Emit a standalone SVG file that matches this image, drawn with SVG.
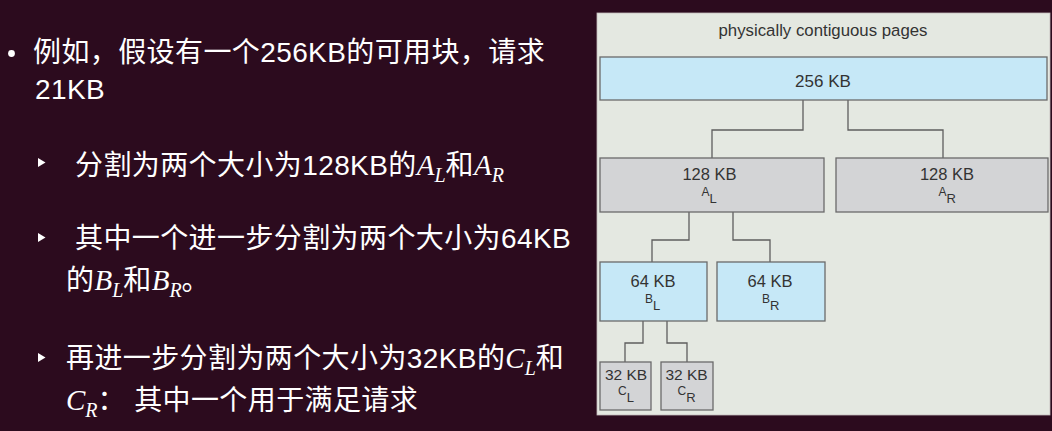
<svg xmlns="http://www.w3.org/2000/svg" width="1052" height="431" viewBox="0 0 1052 431">
<style>
.t{font-family:"Liberation Sans","Noto Sans CJK SC",sans-serif;font-size:28px;fill:#ffffff;letter-spacing:0.4px}
.m{font-family:"Liberation Serif","Noto Sans CJK SC",serif;font-style:italic;font-size:29px;letter-spacing:0}
.ms{font-family:"Liberation Serif","Noto Sans CJK SC",serif;font-style:italic;font-size:20px;letter-spacing:0}
.box{stroke:#6a6a6a;stroke-width:1.3}
.blue{fill:#c6e8f7}
.gray{fill:#d3d4d6}
.lbl{font-family:"Liberation Sans",Arial,sans-serif;fill:#333333;text-anchor:middle}
.sub{font-family:"Liberation Sans",Arial,sans-serif;fill:#333333;font-size:12px}
.conn{fill:none;stroke:#5e5e5e;stroke-width:1.3}
</style>
<rect x="0" y="0" width="1052" height="431" fill="#2c0b1e"/>
<g id="bullets">
<circle cx="11.5" cy="53.5" r="3.4" fill="#ffffff"/>
<polygon points="38,158 45.5,162.5 38,167" fill="#ffffff"/>
<polygon points="38,233 45.5,237.5 38,242" fill="#ffffff"/>
<polygon points="38,353 45.5,357.5 38,362" fill="#ffffff"/>
</g>
<g id="text">
<text class="t" x="33" y="62">例如，假设有一个256KB的可用块，请求</text>
<text class="t" x="35" y="99">21KB</text>
<text class="t" x="75" y="175">分割为两个大小为128KB的<tspan class="m">A</tspan><tspan class="ms" dy="7">L</tspan><tspan dy="-7">和</tspan><tspan class="m">A</tspan><tspan class="ms" dy="7">R</tspan></text>
<text class="t" x="75" y="248">其中一个进一步分割为两个大小为64KB</text>
<text class="t" x="66" y="290">的<tspan class="m">B</tspan><tspan class="ms" dy="7">L</tspan><tspan dy="-7">和</tspan><tspan class="m">B</tspan><tspan class="ms" dy="7">R</tspan><tspan dy="-7">。</tspan></text>
<text class="t" x="66" y="368">再进一步分割为两个大小为32KB的<tspan class="m">C</tspan><tspan class="ms" dy="7">L</tspan><tspan dy="-7">和</tspan></text>
<text class="t" x="66" y="410"><tspan class="m">C</tspan><tspan class="ms" dy="7">R</tspan><tspan dy="-7">： 其中一个用于满足请求</tspan></text>
</g>
<rect id="panel" x="597" y="13" width="453" height="402" fill="#e4e8e1" stroke="#c4bcbc" stroke-width="0.8"/>
<text class="lbl" x="823" y="36" font-size="16.8">physically contiguous pages</text>
<g id="connectors">
<polyline class="conn" points="803,100 803,130 712,130 712,158"/>
<polyline class="conn" points="848,100 848,130 943,130 943,158"/>
<polyline class="conn" points="689,212 689,240 652,240 652,262"/>
<polyline class="conn" points="733,212 733,240 770,240 770,262"/>
<polyline class="conn" points="643,321 643,343 625,343 625,362"/>
<polyline class="conn" points="667,321 667,343 687,343 687,362"/>
</g>
<g id="n256">
<rect class="box blue" x="600" y="57" width="447" height="43"/>
<text class="lbl" x="823" y="87" font-size="17">256 KB</text>
</g>
<g id="nAL">
<rect class="box gray" x="600" y="158" width="224" height="54"/>
<text class="lbl" x="709.5" y="180" font-size="16.5">128 KB</text>
<text class="sub" x="701.5" y="196">A<tspan dy="7" font-size="13">L</tspan></text>
</g>
<g id="nAR">
<rect class="box gray" x="836" y="158" width="212" height="54"/>
<text class="lbl" x="947" y="180" font-size="16.5">128 KB</text>
<text class="sub" x="938.5" y="196">A<tspan dy="7" font-size="13">R</tspan></text>
</g>
<g id="nBL">
<rect class="box blue" x="600" y="262" width="107" height="59"/>
<text class="lbl" x="653" y="287" font-size="16.5">64 KB</text>
<text class="sub" x="645" y="303">B<tspan dy="7" font-size="13">L</tspan></text>
</g>
<g id="nBR">
<rect class="box blue" x="717" y="262" width="108" height="59"/>
<text class="lbl" x="770" y="287" font-size="16.5">64 KB</text>
<text class="sub" x="762" y="303">B<tspan dy="7" font-size="13">R</tspan></text>
</g>
<g id="nCL">
<rect class="box gray" x="600" y="362" width="51" height="48"/>
<text class="lbl" x="626" y="380" font-size="15.5">32 KB</text>
<text class="sub" x="618" y="395">C<tspan dy="7" font-size="13">L</tspan></text>
</g>
<g id="nCR">
<rect class="box gray" x="661" y="362" width="52" height="48"/>
<text class="lbl" x="686.5" y="380" font-size="15.5">32 KB</text>
<text class="sub" x="677.5" y="395">C<tspan dy="7" font-size="13">R</tspan></text>
</g>
</svg>
